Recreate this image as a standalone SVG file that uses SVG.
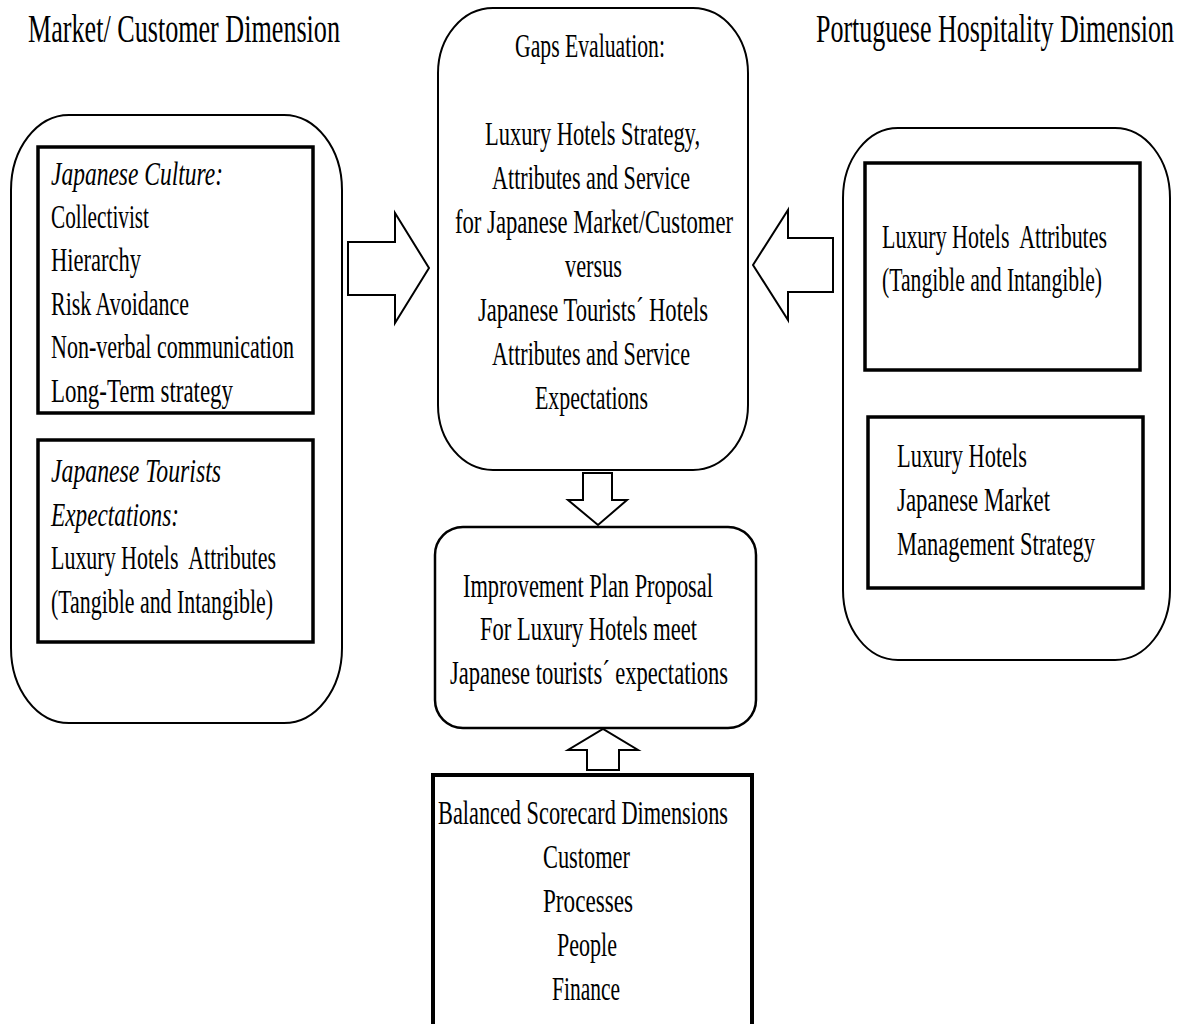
<svg xmlns="http://www.w3.org/2000/svg" width="1195" height="1024" viewBox="0 0 1195 1024" font-family="'Liberation Serif','Times New Roman',serif">
<style>
text{font-family:"Liberation Serif","Times New Roman","DejaVu Serif",serif;font-size:33px;fill:#000}
.t{font-size:40px}
.i{font-style:italic}
.outer{fill:none;stroke:#000;stroke-width:2}
.inner{fill:none;stroke:#000;stroke-width:3.5}
.arrow{fill:#fff;stroke:#000;stroke-width:2;stroke-linejoin:miter}
</style>
<rect width="1195" height="1024" fill="#fff"/>
<g id="title-left"><text class="t" x="28" y="42" textLength="312" lengthAdjust="spacingAndGlyphs">Market/ Customer Dimension</text></g>
<g id="title-right"><text class="t" x="816" y="42" textLength="358" lengthAdjust="spacingAndGlyphs">Portuguese Hospitality Dimension</text></g>

<g id="market-customer">
<rect class="outer" x="11" y="115" width="331" height="608" rx="58" ry="75"/>
<g id="japanese-culture">
<rect class="inner" x="38" y="147" width="275" height="266"/>
<text class="i" x="51" y="185" textLength="172" lengthAdjust="spacingAndGlyphs">Japanese Culture:</text>
<text x="51" y="228" textLength="98" lengthAdjust="spacingAndGlyphs">Collectivist</text>
<text x="51" y="271" textLength="90" lengthAdjust="spacingAndGlyphs">Hierarchy</text>
<text x="51" y="315" textLength="138" lengthAdjust="spacingAndGlyphs">Risk Avoidance</text>
<text x="51" y="358" textLength="243" lengthAdjust="spacingAndGlyphs">Non-verbal communication</text>
<text x="51" y="402" textLength="182" lengthAdjust="spacingAndGlyphs">Long-Term strategy</text>
</g>
<g id="tourist-expectations">
<rect class="inner" x="38" y="440" width="275" height="202"/>
<text class="i" x="51" y="482" textLength="170" lengthAdjust="spacingAndGlyphs">Japanese Tourists</text>
<text class="i" x="51" y="526" textLength="128" lengthAdjust="spacingAndGlyphs">Expectations:</text>
<text x="51" y="569" textLength="225" lengthAdjust="spacingAndGlyphs" xml:space="preserve">Luxury Hotels  Attributes</text>
<text x="51" y="613" textLength="222" lengthAdjust="spacingAndGlyphs">(Tangible and Intangible)</text>
</g>
</g>

<g id="gaps-evaluation">
<rect class="outer" x="438" y="8" width="310" height="462" rx="55" ry="65"/>
<text x="515" y="57" textLength="150" lengthAdjust="spacingAndGlyphs">Gaps Evaluation:</text>
<text x="485" y="145" textLength="215" lengthAdjust="spacingAndGlyphs">Luxury Hotels Strategy,</text>
<text x="492" y="189" textLength="198" lengthAdjust="spacingAndGlyphs">Attributes and Service</text>
<text x="455" y="233" textLength="278" lengthAdjust="spacingAndGlyphs">for Japanese Market/Customer</text>
<text x="565" y="277" textLength="57" lengthAdjust="spacingAndGlyphs">versus</text>
<text x="478" y="321" textLength="230" lengthAdjust="spacingAndGlyphs">Japanese Tourists´ Hotels</text>
<text x="492" y="365" textLength="198" lengthAdjust="spacingAndGlyphs">Attributes and Service</text>
<text x="535" y="409" textLength="113" lengthAdjust="spacingAndGlyphs">Expectations</text>
</g>

<g id="portuguese-hospitality">
<rect class="outer" x="843" y="128" width="327" height="532" rx="55" ry="70"/>
<g id="hotel-attributes">
<rect class="inner" x="865" y="163" width="275" height="207"/>
<text x="882" y="248" textLength="225" lengthAdjust="spacingAndGlyphs" xml:space="preserve">Luxury Hotels  Attributes</text>
<text x="882" y="291" textLength="220" lengthAdjust="spacingAndGlyphs">(Tangible and Intangible)</text>
</g>
<g id="management-strategy">
<rect class="inner" x="868" y="417" width="275" height="171"/>
<text x="897" y="467" textLength="130" lengthAdjust="spacingAndGlyphs">Luxury Hotels</text>
<text x="897" y="511" textLength="153" lengthAdjust="spacingAndGlyphs">Japanese Market</text>
<text x="897" y="555" textLength="198" lengthAdjust="spacingAndGlyphs">Management Strategy</text>
</g>
</g>

<g id="improvement-plan">
<rect fill="none" stroke="#000" stroke-width="2.5" x="435" y="527" width="321" height="201" rx="28" ry="28"/>
<text x="463" y="597" textLength="250" lengthAdjust="spacingAndGlyphs">Improvement Plan Proposal</text>
<text x="480" y="640" textLength="217" lengthAdjust="spacingAndGlyphs">For Luxury Hotels meet</text>
<text x="450" y="684" textLength="278" lengthAdjust="spacingAndGlyphs">Japanese tourists´ expectations</text>
</g>

<g id="balanced-scorecard">
<rect fill="none" stroke="#000" stroke-width="4" x="433" y="775" width="319" height="260"/>
<text x="438" y="824" textLength="290" lengthAdjust="spacingAndGlyphs">Balanced Scorecard Dimensions</text>
<text x="543" y="868" textLength="87" lengthAdjust="spacingAndGlyphs">Customer</text>
<text x="543" y="912" textLength="90" lengthAdjust="spacingAndGlyphs">Processes</text>
<text x="557" y="956" textLength="60" lengthAdjust="spacingAndGlyphs">People</text>
<text x="552" y="1000" textLength="68" lengthAdjust="spacingAndGlyphs">Finance</text>
</g>

<g id="connectors">
<polygon class="arrow" points="348,242 395,242 395,213 429,268 395,323 395,295 348,295"/>
<polygon class="arrow" points="833,238 788,238 788,210 753,265 788,320 788,292 833,292"/>
<polygon class="arrow" points="583,473 612,473 612,500 627,500 598,525 568,500 583,500"/>
<polygon class="arrow" points="587,770 587,750 568,750 603,729 638,750 619,750 619,770"/>
</g>
</svg>
